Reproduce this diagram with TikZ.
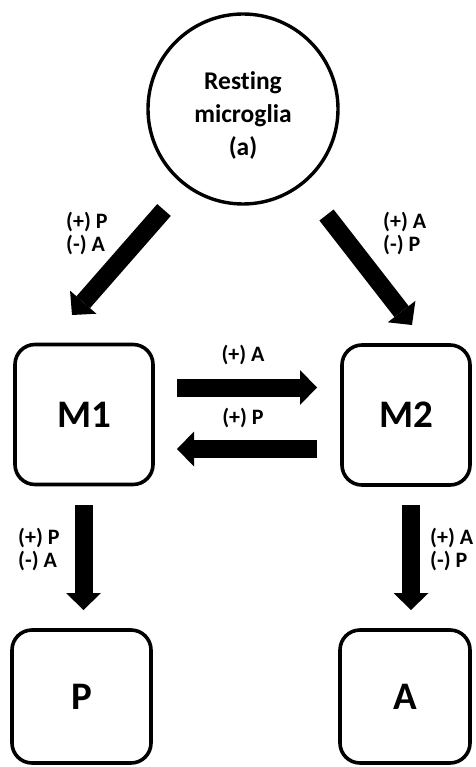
\documentclass[tikz,border=0pt]{standalone}
\usepackage{fontspec}
\setmainfont{Carlito}[Ligatures=NoCommon]
\usetikzlibrary{arrows.meta}
\begin{document}
\begin{tikzpicture}[x=1pt,y=-1pt,
  box/.style={draw, line width=3.6pt, rounded corners=20pt, inner sep=0pt,
    font=\fontsize{39}{40}\selectfont\bfseries},
  rest/.style={draw, circle, line width=3.4pt, minimum size=190pt, inner sep=0pt,
    align=center, font=\fontsize{25.5}{33}\selectfont\bfseries},
  bigarrow/.style={line width=18pt, -{Triangle[width=35pt,length=17pt,line width=0pt]}},
  lbl/.style={font=\fontsize{22}{23}\selectfont\bfseries, align=left, inner sep=0pt}]
\useasboundingbox (0,0) rectangle (475,767);
% nodes
\node[rest] (rm) at (243,109) {\rule{0pt}{30pt}Resting\\microglia\\(a)};
\node[box, minimum width=138pt, minimum height=140pt] (m1) at (84,414.5) {M1};
\node[box, minimum width=128pt, minimum height=140pt] (m2) at (406,415) {M2};
\node[box, minimum width=139pt, minimum height=133pt] (p) at (81.5,696.5) {P};
\node[box, minimum width=130pt, minimum height=133pt] (a) at (405,696.5) {A};
% arrow end points
\coordinate (d1s) at (164,210);   \coordinate (d1e) at (72,315);
\coordinate (d2s) at (326.5,215); \coordinate (d2e) at (412,325);
\coordinate (h1s) at (177,387.5); \coordinate (h1e) at (317,387.5);
\coordinate (h2s) at (317,449);   \coordinate (h2e) at (177,449);
\coordinate (v1s) at (83.5,505);  \coordinate (v1e) at (83.5,610);
\coordinate (v2s) at (411,505);   \coordinate (v2e) at (411,610);
% arrows
\draw[bigarrow] (d1s) -- (d1e);
\draw[bigarrow] (d2s) -- (d2e);
\draw[bigarrow] (h1s) -- (h1e);
\draw[bigarrow] (h2s) -- (h2e);
\draw[bigarrow] (v1s) -- (v1e);
\draw[bigarrow] (v2s) -- (v2e);
% labels
\node[lbl, anchor=west] (l1) at (66,233.5) {(+) P\\(-) A};
\node[lbl, anchor=west] (l2) at (383,233.5) {(+) A\\(-) P};
\node[lbl] (l3) at (243,355) {(+) A};
\node[lbl] (l4) at (243,418) {(+) P};
\node[lbl, anchor=west] (l5) at (18,549.5) {(+) P\\(-) A};
\node[lbl, anchor=west] (l6) at (430,549.5) {(+) A\\(-) P};
\end{tikzpicture}
\end{document}
